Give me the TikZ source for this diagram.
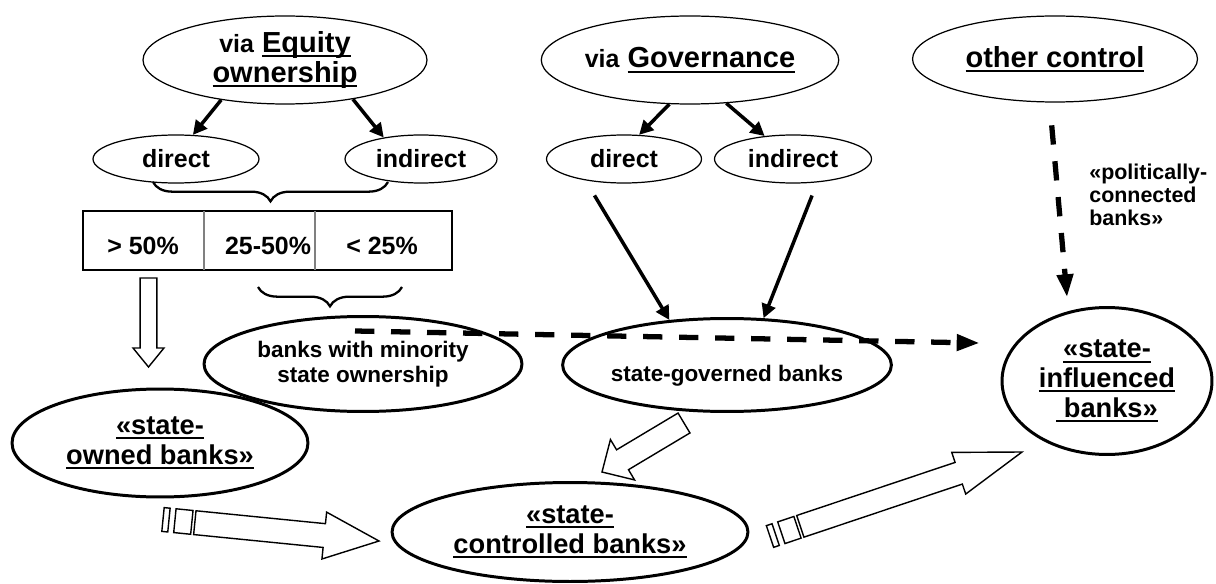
\documentclass[tikz,border=0pt]{standalone}
\usepackage{fontspec}
\setmainfont{Liberation Sans}
\usetikzlibrary{arrows.meta, calc, shapes.geometric, decorations.pathreplacing}
\newcommand{\titlesize}{\fontsize{16.5pt}{17.1pt}\selectfont}
\newcommand{\viasize}{\fontsize{14.2pt}{17pt}\selectfont}
\newcommand{\midsize}{\fontsize{14.2pt}{17pt}\selectfont}
\newcommand{\banksize}{\fontsize{12.8pt}{14.2pt}\selectfont}
\newcommand{\statesize}{\fontsize{15.5pt}{16.9pt}\selectfont}
\newcommand{\notesize}{\fontsize{12.2pt}{13.1pt}\selectfont}
\newsavebox{\ulbox}
\newcommand{\ultext}[1]{\sbox{\ulbox}{#1}\rlap{\rule[-0.17em]{\wd\ulbox}{0.07em}}\usebox{\ulbox}}
\tikzset{
    oval/.style={ellipse, draw, inner sep=0pt, align=center},
    topoval/.style={oval, line width=0.7pt, font=\bfseries\titlesize},
    suboval/.style={oval, line width=0.7pt, font=\bfseries\midsize},
    bankoval/.style={oval, line width=1.7pt, font=\bfseries\banksize},
    stateoval/.style={oval, line width=1.7pt, font=\bfseries\statesize},
    arr/.style={-{Triangle[length=8pt, width=8pt]}, line width=2pt},
    dasharr/.style={-{Triangle[length=13pt, width=9pt]}, line width=3pt, dash pattern=on 11pt off 9.5pt},
    block/.style={draw, line width=0.8pt, line join=miter},
    curly/.style={decorate, decoration={brace, mirror, amplitude=11pt}, line width=1.3pt}
}
% hollow block arrow: tail, tip, half shaft, half head, head length (pt)
\newcommand{\blockarrow}[5]{%
  \draw[block] let \p1=($(#2)-(#1)$), \n1={atan2(\y1,\x1)},
      \p2=({\n1+90}:#3), \p3=({\n1}:1pt), \p4=({\n1+90}:#4) in
    ($(#1)+(\p2)$) -- ($(#2)-#5*(\p3)+(\p2)$) -- ($(#2)-#5*(\p3)+(\p4)$) -- (#2)
    -- ($(#2)-#5*(\p3)-(\p4)$) -- ($(#2)-#5*(\p3)-(\p2)$) -- ($(#1)-(\p2)$) -- cycle;
}
% same with two stripes at the tail
\newcommand{\stripearrow}[5]{%
  \draw[block] let \p1=($(#2)-(#1)$), \n1={atan2(\y1,\x1)},
      \p2=({\n1+90}:#3), \p3=({\n1}:1pt), \p4=({\n1+90}:#4) in
    ($(#1)+(\p2)$) -- ($(#1)+3.4*(\p3)+(\p2)$) -- ($(#1)+3.4*(\p3)-(\p2)$) -- ($(#1)-(\p2)$) -- cycle
    ($(#1)+6.8*(\p3)+(\p2)$) -- ($(#1)+16.5*(\p3)+(\p2)$) -- ($(#1)+16.5*(\p3)-(\p2)$) -- ($(#1)+6.8*(\p3)-(\p2)$) -- cycle
    ($(#1)+18.2*(\p3)+(\p2)$) -- ($(#2)-#5*(\p3)+(\p2)$) -- ($(#2)-#5*(\p3)+(\p4)$) -- (#2)
    -- ($(#2)-#5*(\p3)-(\p4)$) -- ($(#2)-#5*(\p3)-(\p2)$) -- ($(#1)+18.2*(\p3)-(\p2)$) -- cycle;
}

\begin{document}
\begin{tikzpicture}[x=0.02cm, y=-0.02cm]
    \useasboundingbox (0,0) rectangle (1216,584);
    % Kinds of control
    \node[topoval, minimum width=5.68cm, minimum height=1.76cm] (eqt) at (285,60)
        {{\viasize via} \ultext{Equity}\\\ultext{ownership}};
    \node[topoval, minimum width=5.68cm, minimum height=1.76cm] (gov) at (690,60)
        {{\viasize via} \ultext{Governance}};
    \node[topoval, minimum width=5.70cm, minimum height=1.72cm] (oth) at (1055,59)
        {\ultext{other control}};
    % Direct / indirect
    \node[suboval, minimum width=3.32cm, minimum height=0.96cm] (dir1) at (176,159) {direct};
    \node[suboval, minimum width=3.04cm, minimum height=0.96cm] (ind1) at (421,159) {indirect};
    \node[suboval, minimum width=3.10cm, minimum height=0.96cm] (dir2) at (624,159) {direct};
    \node[suboval, minimum width=3.14cm, minimum height=0.96cm] (ind2) at (793,159) {indirect};
    \draw[arr] (eqt.212) -- (dir1.55);
    \draw[arr] (eqt.330) -- (ind1.150);
    \draw[arr] (gov.245) -- (dir2.58);
    \draw[arr] (gov.310) -- (ind2.141);
    % Shares
    \draw[curly] (153,182) -- (388,182);
    \draw[line width=0.9pt] (83,211) rectangle (452,270);
    \draw[gray, line width=0.6pt] (204,211) -- (204,270) (315,211) -- (315,270);
    \node[anchor=base, font=\bfseries\midsize] (gt50) at (143,255) {> 50\%};
    \node[anchor=base, font=\bfseries\midsize] (mid50) at (268,255) {25-50\%};
    \node[anchor=base, font=\bfseries\midsize] (lt25) at (382,255) {< 25\%};
    \draw[curly] (258,287) -- (402,287);
    % Bank groups
    \node[bankoval, minimum width=6.36cm, minimum height=1.90cm] (mino) at (363,364)
        {banks with minority\\state ownership};
    \node[bankoval, minimum width=6.32cm, minimum height=1.86cm, text height=22pt, text depth=2.7pt] (govb) at (727,365)
        {state-governed banks};
    \node[stateoval, minimum width=5.92cm, minimum height=2.16cm] (sob) at (160,443)
        {\ultext{«state-}\\\ultext{owned banks»}};
    \node[stateoval, minimum width=7.12cm, minimum height=1.98cm] (ctl) at (570,532)
        {\ultext{«state-}\\\ultext{controlled banks»}};
    \node[stateoval, minimum width=4.20cm, minimum height=2.94cm] (infl) at (1107,381)
        {\ultext{«state-}\\\ultext{influenced}\\\ultext{\ banks»}};
    \draw[arr, shorten <=10pt] (dir2.209) -- (govb.142);
    \draw[arr, shorten <=8pt] (ind2.316) -- (govb.52);
    % Dashed links
    \coordinate (dstart) at (355,331);
    \draw[dasharr, shorten >=20pt] (dstart) -- (infl.158);
    \draw[dasharr, shorten <=13pt, shorten >=8pt] (oth.263) -- (infl.119);
    \node[anchor=north west, inner sep=0pt, align=left, font=\bfseries\notesize] (pcb) at (1089,164)
        {«politically-\\connected\\banks»};
    % Block arrows
    \coordinate (dtail) at (148.5,278);
    \coordinate (dtip) at (148.5,367);
    \blockarrow{dtail}{dtip}{4.8pt}{8.8pt}{10.8}
    \coordinate (ctail) at (684,423);
    \coordinate (ctip) at (602,472);
    \blockarrow{ctail}{ctip}{6.6pt}{13.4pt}{13.6}
    \coordinate (atail) at (163,519.5);
    \coordinate (atip) at (379,541);
    \stripearrow{atail}{atip}{6.8pt}{13.4pt}{31.3}
    \coordinate (btail) at (770,536.5);
    \coordinate (btip) at (1022,452);
    \stripearrow{btail}{btip}{6.5pt}{12.5pt}{38}
\end{tikzpicture}
\end{document}
